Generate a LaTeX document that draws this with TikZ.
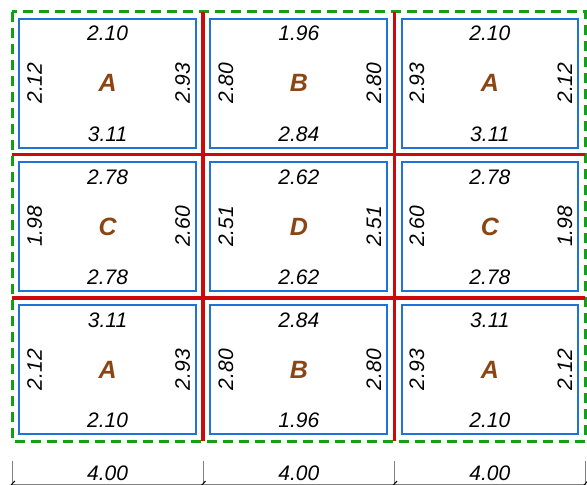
\documentclass[tikz,border=0pt]{standalone}
\usepackage{fontspec}
\setmainfont{Liberation Sans}
\definecolor{panelblue}{RGB}{30,115,215}
\definecolor{beamred}{RGB}{205,10,10}
\definecolor{edgegreen}{RGB}{20,160,20}
\definecolor{baybrown}{RGB}{139,69,19}
\tikzset{
  lbl/.style={font=\fontsize{21}{24}\selectfont\itshape, inner sep=0pt},
  bayname/.style={font=\fontsize{25}{28}\selectfont\bfseries\itshape, text=baybrown, inner sep=0pt},
  panel/.style={draw=panelblue, line width=2pt},
  beam/.style={draw=beamred, line width=3.5pt},
  edgeline/.style={draw=edgegreen, line width=3pt, dash pattern=on 10pt off 6pt},
  dimline/.style={draw=gray, line width=0.8pt},
  dimtick/.style={draw=black, line width=1pt},
}
% #1 name, #2 cx, #3 cy, #4 letter, #5 top, #6 bottom, #7 left, #8 right
\newcommand\mybay[8]{%
  \draw[panel] (#2-88.4,#3-64.4) rectangle (#2+88.4,#3+64.4);
  \node[bayname] (#1c) at (#2,#3) {#4};
  \node[lbl] (#1t) at (#2,#3-49.5) {#5};
  \node[lbl] (#1b) at (#2,#3+51) {#6};
  \node[lbl, rotate=90] (#1l) at (#2-73,#3) {#7};
  \node[lbl, rotate=90] (#1r) at (#2+75,#3) {#8};
}
\begin{document}
\begin{tikzpicture}[x=1pt, y=-1pt]
\useasboundingbox (0,0) rectangle (587,485);
% outer edge
\draw[edgeline] (12.3,11.7) rectangle (585.3,441);
% panels
\mybay{p11}{107.6}{83.2}{A}{2.10}{3.11}{2.12}{2.93}
\mybay{p12}{298.8}{83.2}{B}{1.96}{2.84}{2.80}{2.80}
\mybay{p13}{489.9}{83.2}{A}{2.10}{3.11}{2.93}{2.12}
\mybay{p21}{107.6}{226.4}{C}{2.78}{2.78}{1.98}{2.60}
\mybay{p22}{298.8}{226.4}{D}{2.62}{2.62}{2.51}{2.51}
\mybay{p23}{489.9}{226.4}{C}{2.78}{2.78}{2.60}{1.98}
\mybay{p31}{107.6}{369.7}{A}{3.11}{2.10}{2.12}{2.93}
\mybay{p32}{298.8}{369.7}{B}{2.84}{1.96}{2.80}{2.80}
\mybay{p33}{489.9}{369.7}{A}{3.11}{2.10}{2.93}{2.12}
% beams
\draw[beam] (203,11.7) -- (203,441);
\draw[beam] (394.5,11.7) -- (394.5,441);
\draw[beam] (12.3,154.7) -- (585.3,154.7);
\draw[beam] (12.3,298) -- (585.3,298);
% dimension line
\draw[dimline] (12.3,484) -- (585.3,484);
\foreach \x in {12.3,203,394.5,585.3}{
  \draw[dimline] (\x,461) -- (\x,487);
  \draw[dimtick] (\x-2.5,486.5) -- (\x+2.5,481);
}
\node[lbl] (d1) at (107.6,473) {4.00};
\node[lbl] (d2) at (298.8,473) {4.00};
\node[lbl] (d3) at (489.9,473) {4.00};
\end{tikzpicture}
\end{document}
